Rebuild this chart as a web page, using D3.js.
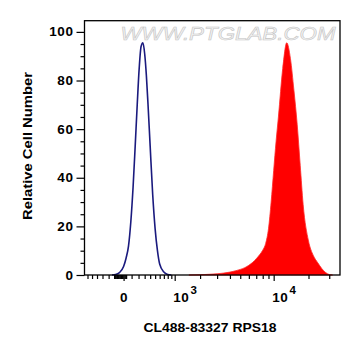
<!DOCTYPE html>
<html>
<head>
<meta charset="utf-8">
<script src="https://cdn.jsdelivr.net/npm/d3@7"></script>
<style>
  body { margin: 0; background: #fff; }
  text { font-family: "Liberation Sans", Arial, sans-serif; }
</style>
</head>
<body>
<div id="graph"></div>
<script>
// Sample data (x = fluorescence, y = relative count)
const controlX = [-150, -100, -50, 0, 30, 60, 90, 120, 150, 180, 210, 240, 270, 300, 330, 360, 400, 450, 500, 550, 600, 700, 800, 900];
const controlY = [0, 0.2, 1, 3.5, 7, 12, 22, 36, 53, 70, 85, 94, 95.5, 91, 82, 70, 53, 33, 19, 10, 4.5, 1.2, 0.2, 0];

const stainedX = [1500, 2000, 2500, 3000, 3500, 4000, 4500, 5000, 5500, 6000, 6500, 7000, 7500, 8000, 8500, 9000, 9500, 10000, 10500, 11000, 12000, 13000, 14000, 15000, 16000, 17000, 18000, 20000, 22000, 24000, 26000, 28000, 30000, 32000];
const stainedY = [0, 0.1, 0.3, 0.5, 0.8, 1.2, 1.7, 2.3, 3.0, 4.0, 5.2, 6.7, 8.3, 10.2, 13, 19, 30, 43, 55, 65, 85, 95.5, 89, 76, 62, 45, 29, 14, 8, 5, 2.6, 1.0, 0.2, 0];

const xMajorTicks = [0, 1000, 10000];
const xTickLabels = ["0", "10|3", "10|4"];
const xMinorTicks = [-600, -500, -400, -300, -200, -120, -110, -100, -90, -80, -70, -60, -50, -40, -30, -20, -10,
    10, 20, 30, 100, 200, 300, 400, 500, 600, 700, 800, 900,
    2000, 3000, 4000, 5000, 6000, 7000, 8000, 9000, 20000, 30000];
const yMajorTicks = [0, 20, 40, 60, 80, 100];
const yMinorTicks = [5, 10, 15, 25, 30, 35, 45, 50, 55, 65, 70, 75, 85, 90, 95];

const xTitle = "CL488-83327 RPS18";
const yTitle = "Relative Cell Number";
const watermark = "WWW.PTGLAB.COM";

var margin = {top: 20.7, right: 21, bottom: 81, left: 84.5},
    width = 361 - margin.left - margin.right,
    height = 356 - margin.top - margin.bottom;

const svg = d3.select("#graph").append("svg")
    .attr("width", 361)
    .attr("height", 356)
  .append("g")
    .attr("transform", `translate(${margin.left}, ${margin.top})`);

// biexponential-like display scale
const x = d3.scaleSymlog()
    .constant(606)
    .domain([-671, 36970])
    .range([0, width]);

const y = d3.scaleLinear()
    .domain([0, 104.6])
    .range([height, 0]);

// watermark
svg.append("text")
    .attr("x", 36)
    .attr("y", 19.6)
    .attr("textLength", 215)
    .attr("lengthAdjust", "spacingAndGlyphs")
    .style("font-size", "18.5px")
    .style("font-style", "italic")
    .style("fill", "#f3f3f3")
    .style("stroke", "#c4c4c4")
    .style("stroke-width", 0.55)
    .text(watermark);

const control = controlX.map((d, i) => ({x: d, y: controlY[i]}));
const stained = stainedX.map((d, i) => ({x: d, y: stainedY[i]}));

const area = d3.area()
    .x(d => x(d.x))
    .y0(height)
    .y1(d => y(d.y))
    .curve(d3.curveMonotoneX);

const line = d3.line()
    .x(d => x(d.x))
    .y(d => y(d.y))
    .curve(d3.curveMonotoneX);

svg.append("path")
    .datum(stained)
    .attr("fill", "#ff0000")
    .attr("stroke", "#ff2a2a")
    .attr("stroke-width", 0.8)
    .attr("d", area);

svg.append("path")
    .datum(control)
    .attr("fill", "none")
    .attr("stroke", "#1a1a7e")
    .attr("stroke-width", 1.6)
    .attr("d", line);

// frame
svg.append("rect")
    .attr("width", width)
    .attr("height", height)
    .attr("fill", "none")
    .attr("stroke", "#000")
    .attr("stroke-width", 1.3);

// y axis
svg.append("g")
    .call(d3.axisLeft(y).tickValues(yMinorTicks).tickSize(4).tickFormat(""))
    .call(g => g.select(".domain").remove());

svg.append("g")
    .call(d3.axisLeft(y).tickValues(yMajorTicks).tickSize(8).tickPadding(3))
    .call(g => g.select(".domain").remove())
    .selectAll("text")
    .style("font-size", "13.5px")
    .style("font-weight", "bold")
    .style("letter-spacing", "0.6px")
    .style("font-family", "'Liberation Sans', Arial, sans-serif")
    .attr("dy", "0.3em");

// x axis
svg.append("g")
    .attr("transform", "translate(0," + height + ")")
    .call(d3.axisBottom(x).tickValues(xMinorTicks).tickSize(4).tickFormat(""))
    .call(g => g.select(".domain").remove());

const xAxis = svg.append("g")
    .attr("transform", "translate(0," + height + ")")
    .call(d3.axisBottom(x).tickValues(xMajorTicks).tickSize(6).tickFormat(""))
    .call(g => g.select(".domain").remove());

svg.selectAll(".tick line").attr("stroke-width", 1.2);

xAxis.selectAll(".tick").each(function(d, i) {
    const parts = xTickLabels[i].split("|");
    const t = d3.select(this).append("text")
        .attr("fill", "#000")
        .attr("y", 27)
        .attr("x", parts.length > 1 ? -2 : 0)
        .attr("text-anchor", parts.length > 1 ? "start" : "middle")
        .style("font-size", "13.5px")
        .style("font-weight", "bold")
        .style("letter-spacing", "0.6px")
        .style("font-family", "'Liberation Sans', Arial, sans-serif");
    t.append("tspan").text(parts[0]);
    if (parts.length > 1) {
        t.append("tspan")
            .attr("dy", -8)
            .attr("dx", 1)
            .style("font-size", "11.5px")
            .text(parts[1]);
    }
});

// titles
svg.append("text")
    .attr("x", 210 - margin.left)
    .attr("y", 332.5 - margin.top)
    .attr("text-anchor", "middle")
    .attr("textLength", 133)
    .attr("lengthAdjust", "spacingAndGlyphs")
    .style("font-size", "13px")
    .style("font-weight", "bold")
    .text(xTitle);

svg.append("text")
    .attr("transform", `translate(${32 - margin.left}, ${146 - margin.top}) rotate(-90)`)
    .attr("text-anchor", "middle")
    .attr("textLength", 148)
    .attr("lengthAdjust", "spacingAndGlyphs")
    .style("font-size", "13px")
    .style("font-weight", "bold")
    .text(yTitle);
</script>
</body>
</html>
